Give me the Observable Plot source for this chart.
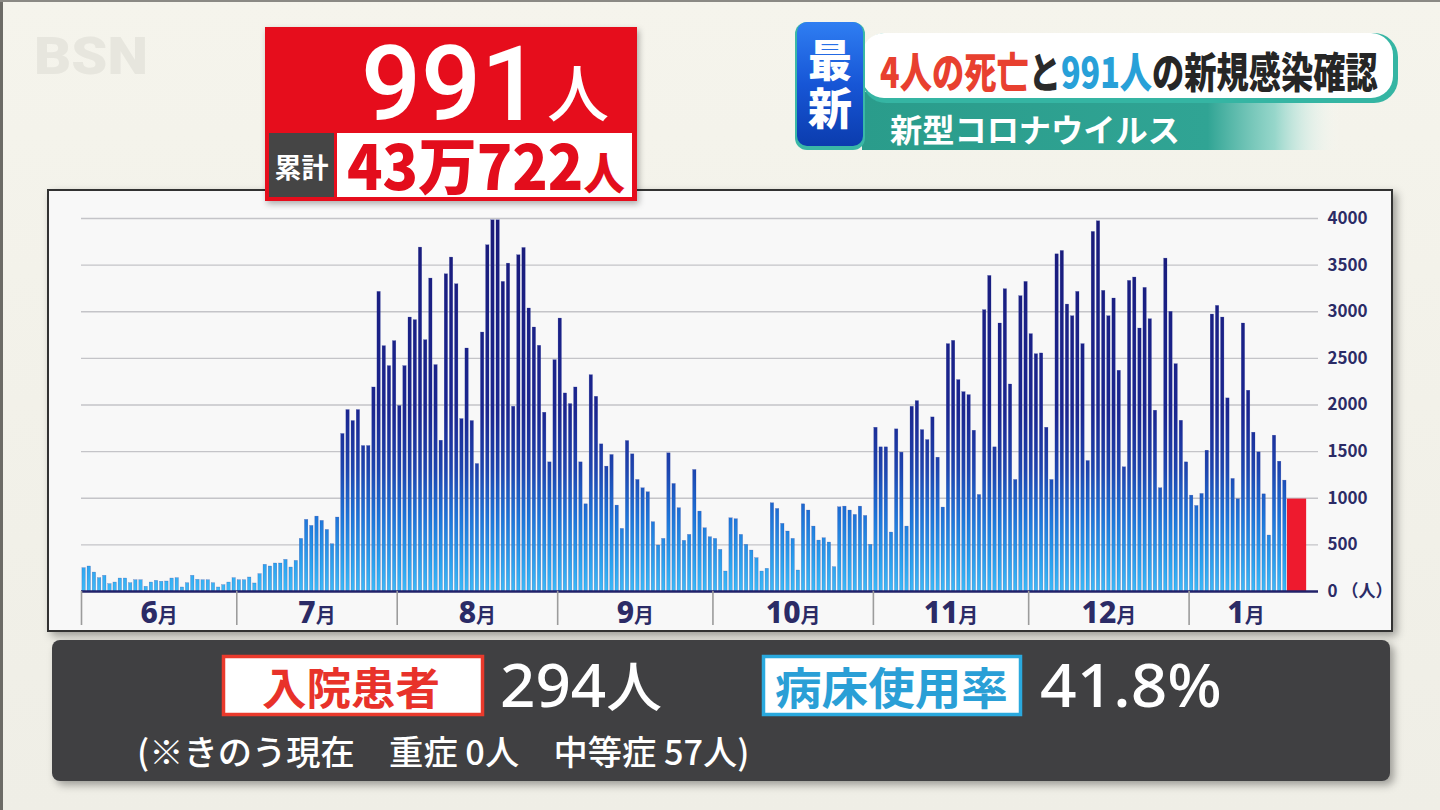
<!DOCTYPE html>
<html>
<head>
<meta charset="utf-8">
<script src="https://cdn.jsdelivr.net/npm/d3@7"></script>
<script src="https://cdn.jsdelivr.net/npm/@observablehq/plot@0.6"></script>
<style>
  html, body { margin: 0; padding: 0; }
  body { width: 1440px; height: 810px; overflow: hidden; background: #f2f1e9; position: relative;
         font-family: "Noto Sans CJK JP", "Noto Sans", sans-serif; }
  .layer { position: absolute; left: 0; top: 0; }
  #chart { position: absolute; left: 48px; top: 190px; }
</style>
</head>
<body>
<svg class="layer" id="bg" width="1440" height="810" xmlns="http://www.w3.org/2000/svg">
  <defs>
    <linearGradient id="bgGrad" x1="0" y1="0" x2="0" y2="1">
      <stop offset="0" stop-color="#f5f4ec"/>
      <stop offset="1" stop-color="#efeee6"/>
    </linearGradient>
    <filter id="shadow" x="-5%" y="-5%" width="115%" height="120%">
      <feDropShadow dx="4" dy="4" stdDeviation="4" flood-color="#000" flood-opacity="0.35"/>
    </filter>
  </defs>
  <rect x="0" y="0" width="1440" height="810" fill="url(#bgGrad)"/>
  <rect x="0" y="0" width="3" height="810" fill="#6c6b66"/>
  <rect x="0" y="0" width="1440" height="2" fill="#8a8984"/>
  <text x="34" y="74" font-family="Roboto, 'Noto Sans', sans-serif" font-weight="900" font-size="52" fill="#e7e6de" data-fit="114">BSN</text>
  <!-- chart panel -->
  <rect x="48" y="190" width="1344" height="441" fill="#f8f8f8" stroke="#333" stroke-width="2" filter="url(#shadow)"/>
  <!-- bottom panel -->
  <rect x="52" y="640" width="1338" height="141" rx="8" fill="#414143" filter="url(#shadow)"/>
  <rect x="223.5" y="656.5" width="259" height="58" fill="#ffffff" stroke="#ea3a2c" stroke-width="3.5"/>
  <text x="262" y="705" font-size="44" font-weight="700" fill="#e8322a" data-fit="178">入院患者</text>
  <text x="500" y="707" font-family="'Noto Sans', sans-serif" font-weight="500" fill="#ffffff" data-fit="162"><tspan font-size="60">294</tspan><tspan font-size="54" font-family="'Noto Sans CJK JP'">人</tspan></text>
  <rect x="763.5" y="656.5" width="257" height="58" fill="#ffffff" stroke="#2aa9de" stroke-width="3.5"/>
  <text x="775" y="705" font-size="44" font-weight="700" fill="#2a9fd6" data-fit="233">病床使用率</text>
  <text x="1040" y="707" font-family="'Noto Sans', sans-serif" font-size="60" font-weight="500" fill="#ffffff" data-fit="182">41.8%</text>
  <text x="137" y="765" font-size="34" font-weight="500" fill="#ffffff" data-fit="613">(※きのう現在　重症 0人　中等症 57人)</text>
</svg>

<div id="chart"></div>

<svg class="layer" id="fg" width="1440" height="210" xmlns="http://www.w3.org/2000/svg">
  <defs>
    <filter id="shadow2" x="-5%" y="-5%" width="115%" height="120%">
      <feDropShadow dx="2" dy="3" stdDeviation="3" flood-color="#000" flood-opacity="0.3"/>
    </filter>
    <linearGradient id="blueGrad" x1="0" y1="0" x2="0" y2="1">
      <stop offset="0" stop-color="#2f7ef2"/>
      <stop offset="0.5" stop-color="#1756d6"/>
      <stop offset="1" stop-color="#0b3cae"/>
    </linearGradient>
    <linearGradient id="tealGrad" x1="0" y1="0" x2="1" y2="0">
      <stop offset="0" stop-color="#2a9c8b"/>
      <stop offset="0.72" stop-color="#30a494"/>
      <stop offset="0.86" stop-color="#7fcfc2" stop-opacity="0.8"/>
      <stop offset="1" stop-color="#ffffff" stop-opacity="0"/>
    </linearGradient>
  </defs>
  <!-- red total box -->
  <g filter="url(#shadow2)">
    <rect x="265" y="27" width="372" height="174" fill="#e60f1e"/>
  </g>
  <rect x="269" y="133" width="65" height="64" fill="#454545"/>
  <rect x="337" y="133" width="295" height="64" fill="#ffffff"/>
  <text x="361" y="120" font-family="Roboto, 'Noto Sans', sans-serif" font-weight="500" font-size="104" fill="#ffffff" data-fit="180">991</text>
  <text x="547" y="117" font-size="62" font-weight="500" fill="#ffffff">人</text>
  <text x="301.5" y="178" text-anchor="middle" font-size="27" font-weight="700" fill="#ffffff">累計</text>
  <text x="347" y="190" font-family="'Noto Sans CJK JP', sans-serif" font-weight="900" fill="#e30d1c" data-fit="278"><tspan font-size="62">43万722</tspan><tspan font-size="44">人</tspan></text>

  <!-- news banner -->
  <rect x="862" y="92" width="480" height="58" fill="url(#tealGrad)"/>
  <rect x="862" y="33" width="536" height="70" rx="24" fill="#35b5a3"/>
  <rect x="862" y="33" width="531" height="65" rx="22" fill="#ffffff"/>
  <rect x="795" y="22" width="70" height="128" rx="12" fill="#3ab8a6"/>
  <rect x="797" y="22" width="66" height="124" rx="10" fill="url(#blueGrad)"/>
  <text x="830" y="38" writing-mode="vertical-rl" letter-spacing="4" font-size="44" font-weight="900" fill="#ffffff">最新</text>
  <text x="880" y="88" font-size="42" font-weight="900" data-fit="498"><tspan fill="#e8402f">4人の死亡</tspan><tspan fill="#2a2a2a">と</tspan><tspan fill="#28a0d8">991人</tspan><tspan fill="#262626">の新規感染確認</tspan></text>
  <text x="890" y="142" font-size="32" font-weight="700" fill="#ffffff" data-fit="290">新型コロナウイルス</text>
</svg>

<script>
// ---- data (new cases per day) ----
const monthLabels = ["6月", "7月", "8月", "9月", "10月", "11月", "12月", "1月"];
const monthStarts = ["2022-06-01", "2022-07-01", "2022-08-01", "2022-09-01", "2022-10-01", "2022-11-01", "2022-12-01", "2023-01-01"];
const june = [250, 268, 203, 143, 168, 79, 96, 139, 139, 89, 121, 121, 50, 96, 114, 104, 107, 139, 143, 43, 89, 168, 125, 121, 121, 89, 43, 68, 96, 143];
const july = [121, 121, 150, 86, 186, 286, 268, 300, 300, 339, 257, 328, 564, 768, 703, 803, 757, 660, 507, 793, 1689, 1946, 1828, 1946, 1560, 1560, 2188, 3213, 2631, 2417, 2685];
const aug = [1989, 2417, 2938, 2910, 3688, 2695, 3356, 2428, 1617, 3402, 3581, 3295, 1849, 2606, 1828, 1367, 2777, 3713, 3981, 3981, 3320, 3516, 1981, 3606, 3684, 3035, 2831, 2635, 1917, 1385, 2481];
const sep = [2927, 2124, 2010, 2188, 1385, 935, 2320, 2088, 1578, 1339, 1464, 921, 671, 1614, 1471, 1196, 1107, 1064, 743, 493, 564, 1482, 1153, 893, 543, 607, 1303, 857, 678, 582];
const oct = [564, 446, 214, 785, 775, 607, 500, 439, 357, 214, 243, 946, 885, 725, 643, 564, 225, 935, 868, 696, 546, 571, 525, 261, 903, 910, 868, 821, 910, 810, 500];
const nov = [1756, 1546, 1546, 632, 1739, 1489, 696, 1981, 2042, 1731, 1624, 1867, 1435, 900, 2653, 2688, 2267, 2138, 2106, 1724, 1035, 3017, 3384, 1546, 2874, 3242, 2220, 1196, 3167, 3320];
const dec = [2760, 2545, 2553, 1756, 1196, 3616, 3652, 3077, 2952, 3213, 2653, 1399, 3856, 3970, 3224, 2952, 3142, 2367, 1332, 3331, 3367, 2820, 3256, 2920, 1939, 1107, 3570, 2999, 2438, 1831, 1385];
const jan = [1028, 917, 1046, 1510, 2970, 3063, 2938, 2071, 1207, 989, 2874, 2153, 1703, 1492, 1042, 600, 1671, 1392, 1189];
const latestDate = "2023-01-20";
const latestValue = 991;
const yTicks = [0, 500, 1000, 1500, 2000, 2500, 3000, 3500, 4000];

// ---- build table ----
const series = [june, july, aug, sep, oct, nov, dec, jan];
const parse = s => new Date(s + "T00:00:00Z");
const daily = [];
series.forEach((arr, i) => {
  const start = parse(monthStarts[i]);
  arr.forEach((v, j) => daily.push({date: d3.utcDay.offset(start, j), value: v}));
});
const latest = [{date: parse(latestDate), value: latestValue}];
const startDates = monthStarts.map(parse);
const labelDates = startDates.map((s, i) => {
  const len = i < startDates.length - 1 ? d3.utcDay.count(s, startDates[i + 1]) : jan.length + 3;
  return new Date(+s + len * 864e5 / 2);
});
const labelOf = d => monthLabels[labelDates.findIndex(t => +t === +d)];

const navy = "#2b2b66";
const chart = Plot.plot({
  width: 1344,
  height: 441,
  marginLeft: 33,
  marginRight: 74,
  marginTop: 28,
  marginBottom: 40,
  style: {background: "transparent", overflow: "visible", fontFamily: "'Noto Sans CJK JP', 'Noto Sans', sans-serif"},
  x: {type: "utc", domain: [parse("2022-06-01"), parse("2023-01-26")], label: null},
  y: {domain: [0, 4000], label: null},
  marks: [
    Plot.ruleY(yTicks.filter(d => d > 0), {stroke: "#c4c4c8", strokeWidth: 1.4}),
    Plot.rect(daily, {x1: "date", x2: d => d3.utcDay.offset(d.date, 1), y1: 0, y2: "value",
      insetLeft: 0.9, insetRight: 0.9, fill: "url(#barGrad)", stroke: "#1d2f96", strokeWidth: 0.4, strokeOpacity: 0.5}),
    Plot.rect(latest, {x1: "date", x2: d => d3.utcHour.offset(d.date, 89), y1: 0, y2: "value", fill: "#ee1a2e"}),
    Plot.ruleY([0], {stroke: "#22226a", strokeWidth: 2.6}),
    Plot.axisY({anchor: "right", ticks: yTicks, tickSize: 0, tickPadding: 9, label: null,
      tickFormat: d => d === 0 ? "0 （人）" : String(d),
      fontSize: 17, fontWeight: 700, fill: navy}),
    Plot.axisX({ticks: startDates, tickSize: 34, tickFormat: () => "", label: null, stroke: "#9c9c9c", strokeWidth: 1.6}),
    Plot.axisX({ticks: labelDates, tickSize: 0, tickPadding: 10, tickFormat: labelOf, label: null,
      fontSize: 30, fontWeight: 700, fill: navy})
  ]
});

// vertical colour gradient of the bars, tied to the y scale
const ys = chart.scale("y");
const defs = d3.select(chart).insert("defs", ":first-child");
const grad = defs.append("linearGradient").attr("id", "barGrad").attr("gradientUnits", "userSpaceOnUse")
  .attr("x1", 0).attr("x2", 0).attr("y1", ys.apply(0)).attr("y2", ys.apply(4000));
[[0, "#3dbaf7"], [0.07, "#2ca3ef"], [0.2, "#1d74d8"], [0.33, "#1e44ae"], [0.48, "#1b2690"], [1, "#1a1a78"]]
  .forEach(([o, c]) => grad.append("stop").attr("offset", o).attr("stop-color", c));

// month labels: large digit + smaller 月
d3.select(chart).selectAll("text").filter(function () { return /月$/.test(this.textContent); })
  .each(function () {
    const t = this.textContent;
    const sel = d3.select(this).text(null);
    sel.append("tspan").attr("font-family", "'Noto Sans', sans-serif").attr("font-weight", 800).text(t.slice(0, -1));
    sel.append("tspan").attr("font-size", 20).text("月");
  });

document.getElementById("chart").appendChild(chart);

// squeeze condensed TV captions horizontally to their width in the picture
function fitAll() {
  document.querySelectorAll("text[data-fit]").forEach(el => {
    el.removeAttribute("transform");
    const x = +el.getAttribute("x");
    const L = el.getComputedTextLength();
    const k = +el.dataset.fit / L;
    if (L > 0) el.setAttribute("transform", `translate(${x},0) scale(${k},1) translate(${-x},0)`);
  });
}
fitAll();
if (document.fonts && document.fonts.ready) document.fonts.ready.then(fitAll);
</script>
</body>
</html>
